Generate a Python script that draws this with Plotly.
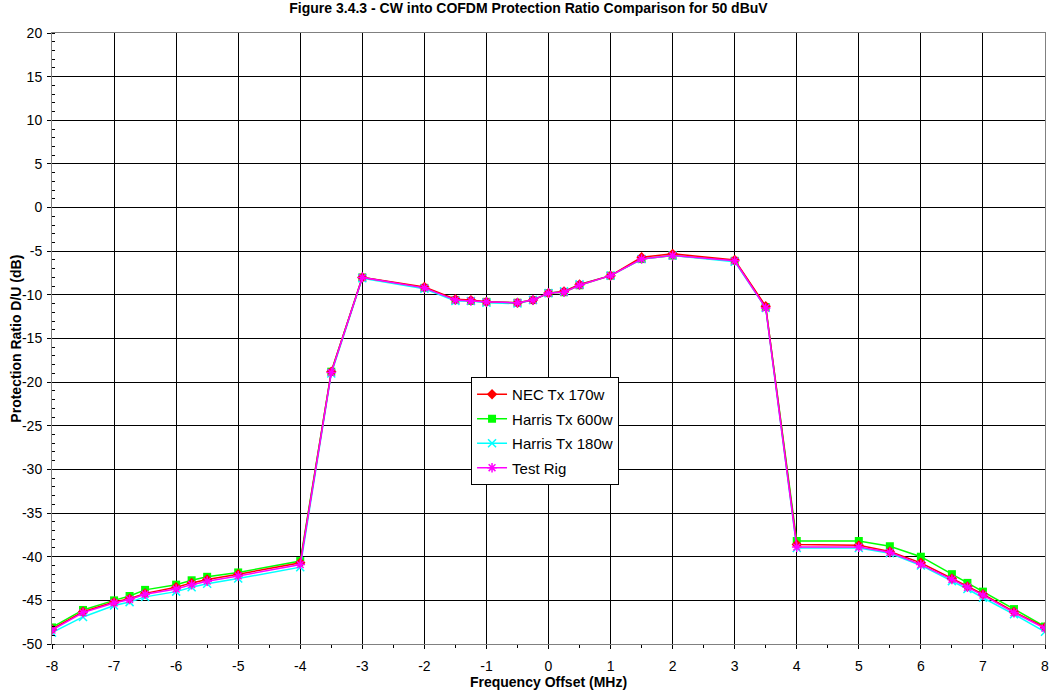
import plotly.graph_objects as go

freq = [-8, -7.5, -7, -6.75, -6.5, -6, -5.75, -5.5, -5, -4, -3.5, -3, -2, -1.5, -1.25, -1,
        -0.5, -0.25, 0, 0.25, 0.5, 1, 1.5, 2, 3, 3.5, 4, 5, 5.5, 6, 6.5, 6.75, 7, 7.5, 8]

nec_170 = [-48.3, -46.3, -45.2, -44.8, -44.2, -43.5, -43.0, -42.6, -42.0, -40.7, -18.8, -8.0,
           -9.1, -10.5, -10.6, -10.8, -10.9, -10.6, -9.8, -9.6, -8.8, -7.8, -5.7, -5.3, -6.0,
           -11.3, -38.6, -38.7, -39.4, -40.7, -42.5, -43.4, -44.3, -46.3, -48.1]
harris_600 = [-48.1, -46.1, -45.0, -44.5, -43.8, -43.2, -42.7, -42.3, -41.8, -40.5, -18.8, -8.0,
              -9.2, -10.6, -10.7, -10.8, -10.9, -10.6, -9.8, -9.7, -8.9, -7.8, -5.9, -5.5, -6.1,
              -11.4, -38.2, -38.2, -38.8, -40.0, -42.0, -43.0, -44.0, -46.0, -48.0]
harris_180 = [-48.7, -46.9, -45.6, -45.2, -44.6, -44.0, -43.5, -43.1, -42.5, -41.2, -19.0, -8.1,
              -9.3, -10.7, -10.7, -10.9, -11.0, -10.6, -9.8, -9.6, -8.8, -7.8, -5.9, -5.5, -6.2,
              -11.5, -39.0, -39.0, -39.6, -41.0, -42.8, -43.7, -44.7, -46.6, -48.6]
test_rig = [-48.4, -46.4, -45.3, -44.9, -44.3, -43.7, -43.2, -42.8, -42.2, -40.9, -18.9, -8.0,
            -9.2, -10.6, -10.7, -10.8, -10.9, -10.6, -9.8, -9.7, -8.9, -7.8, -5.9, -5.5, -6.1,
            -11.5, -38.9, -38.9, -39.5, -40.9, -42.6, -43.5, -44.4, -46.4, -48.2]

series_names = ["NEC Tx 170w", "Harris Tx 600w", "Harris Tx 180w", "Test Rig"]
series_values = [nec_170, harris_600, harris_180, test_rig]
colors = ["#FF0000", "#00FF00", "#00FFFF", "#FF00FF"]
symbols = ["diamond", "square", "x-thin-open", "asterisk-open"]

x_ticks = list(range(-8, 9))
y_ticks = list(range(-50, 21, 5))

FONT = "Liberation Sans, Arial, sans-serif"

fig = go.Figure()
draw_order = [1, 2, 0, 3]
for i in draw_order:
    sym = symbols[i]
    marker = dict(symbol=sym, size=8, color=colors[i])
    if "open" in sym:
        marker["line"] = dict(color=colors[i], width=1.5)
    else:
        marker["line"] = dict(width=0)
    fig.add_trace(go.Scatter(
        x=freq, y=series_values[i], name=series_names[i], mode="lines+markers",
        line=dict(color=colors[i], width=1.5), marker=marker,
        legendgroup=series_names[i], legendrank=i + 1,
    ))

axis_common = dict(
    showgrid=True, gridcolor="#000000", gridwidth=1,
    showline=True, linecolor="#808080", linewidth=1, mirror=True,
    zeroline=False, tickfont=dict(family=FONT, size=14, color="#000000"),
    ticks="outside", tickcolor="#000000", ticklen=4,
)

fig.update_xaxes(
    range=[-8, 8], tickvals=x_ticks, ticktext=[str(v) for v in x_ticks],
    minor=dict(dtick=0.5, ticks="outside", ticklen=3, tickcolor="#000000", showgrid=False),
    ticklabelstandoff=5,
    title=dict(text="<b>Frequency Offset (MHz)</b>", font=dict(family=FONT, size=14, color="#000"), standoff=0),
    **axis_common,
)
fig.update_yaxes(
    range=[-50, 20], tickvals=y_ticks, ticktext=[str(v) for v in y_ticks],
    minor=dict(dtick=1, ticks="inside", ticklen=3, tickcolor="#000000", showgrid=False),
    ticklabelstandoff=2,
    **axis_common,
)

fig.add_annotation(
    text="<b>Protection Ratio D/U (dB)</b>", xref="paper", yref="paper",
    x=(15 - 52) / 997, y=0.5, xanchor="center", yanchor="middle", textangle=-90,
    showarrow=False, font=dict(family=FONT, size=14, color="#000"),
)

fig.update_layout(
    width=1057, height=695,
    margin=dict(l=52, r=8, t=33, b=51),
    paper_bgcolor="white", plot_bgcolor="white",
    title=dict(text="<b>Figure 3.4.3 - CW into COFDM Protection Ratio Comparison for 50 dBuV</b>",
               x=0.5, xanchor="center", y=0.995, yanchor="top",
               font=dict(family=FONT, size=14, color="#000")),
    showlegend=True,
    legend=dict(x=0.422, y=0.437, xanchor="left", yanchor="top",
                bgcolor="white", bordercolor="#000000", borderwidth=1,
                font=dict(family=FONT, size=15, color="#000"),
                tracegroupgap=2, itemwidth=30),
)

fig.write_html("out.html")
